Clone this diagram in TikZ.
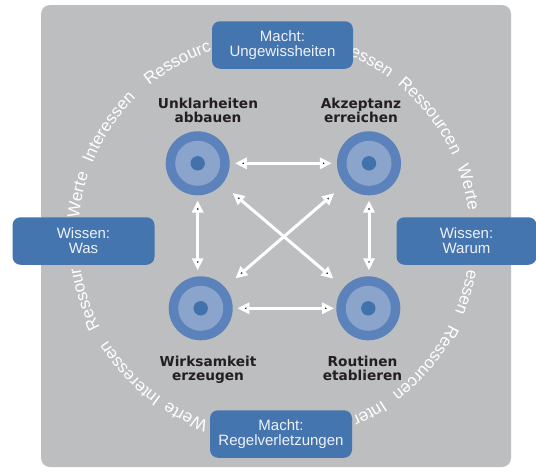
\documentclass[tikz,border=0pt]{standalone}
\usepackage{fontspec}
\setmainfont{Liberation Sans}
\newfontfamily\labfont{DejaVu Sans}
\usetikzlibrary{arrows.meta,decorations.text}
\definecolor{bggray}{HTML}{BDBEC0}
\definecolor{boxblue}{HTML}{4575AF}
\definecolor{ringout}{HTML}{5B82BA}
\definecolor{ringmid}{HTML}{8AA4CC}
\definecolor{ringdot}{HTML}{4272AC}
\definecolor{labtext}{HTML}{231F20}
\definecolor{boxtext}{HTML}{EEF2F8}
\newcommand\ringfont{\fontsize{17}{17}\selectfont}
\newcommand\ringword[2]{\path[decorate,decoration={text along path,text={|\ringfont|#2},text color=white,text align=left}] (C) ++(#1:196pt) arc[start angle=#1,end angle=#1-40,radius=196pt];}
\begin{document}
\begin{tikzpicture}[x=1pt,y=1pt,
  infobox/.style={fill=boxblue, rounded corners=8pt, text=boxtext, align=center, inner sep=0pt, font=\fontsize{15}{15}\selectfont, minimum height=47.5pt},
  steplabel/.style={text=labtext, align=center, inner sep=0pt, font=\labfont\bfseries\fontsize{13.7}{14}\selectfont},
  target/.style={circle, fill=ringout, minimum size=64pt, inner sep=0pt},
  dblarrow/.style={draw=white, line width=3pt, {Triangle[length=12pt,width=11pt]}-{Triangle[length=12pt,width=11pt]}}
]
\useasboundingbox (0,0) rectangle (536,-472);
\fill[bggray, rounded corners=9pt] (41,-5) rectangle (511,-467);
\coordinate (C) at (274,-237);
% ring of words (only the parts that the boxes leave visible)
\ringword{207.5}{Ressour}
\ringword{174.5}{Werte}
\ringword{158}{Interessen}
\ringword{129.5}{Ressourc}
\ringword{67.5}{essen}
\ringword{51}{Ressourcen}
\ringword{21}{Werte}
\ringword{-9.4}{essen}
\ringword{-26.5}{Ressourcen}
\ringword{-56.5}{Inter}
\ringword{-109.5}{Werte}
\ringword{-125}{Interessen}
% boxes
\node[infobox, minimum width=141pt] (mu) at (282.5,-45) {Macht:\\Ungewissheiten};
\node[infobox, minimum width=142pt] (ww) at (83.5,-241) {Wissen:\\Was};
\node[infobox, minimum width=140pt] (wr) at (466.5,-241) {Wissen:\\Warum};
\node[infobox, minimum width=142pt] (mr) at (281,-434) {Macht:\\Regelverletzungen};
% targets
\node[target] (tl) at (197.7,-163.3) {};
\node[target] (tr) at (369,-163.3) {};
\node[target] (bl) at (200.7,-308.3) {};
\node[target] (br) at (368.3,-308.3) {};
\foreach \n in {tl,tr,bl,br}{
  \fill[ringmid] (\n.center) circle[radius=22.5pt];
  \fill[ringdot] (\n.center) circle[radius=7.2pt];
}
% labels
\node[steplabel] (ltl) at (208,-110.1) {Unklarheiten\\abbauen};
\node[steplabel] (ltr) at (361,-110.1) {Akzeptanz\\erreichen};
\node[steplabel] (lbl) at (208,-369.3) {Wirksamkeit\\erzeugen};
\node[steplabel] (lbr) at (362.5,-367.9) {Routinen\\etablieren};
% arrows
\draw[dblarrow, shorten <=5pt, shorten >=5pt] (tl) -- (tr);
\draw[dblarrow, shorten <=4.5pt, shorten >=2pt] (bl) -- (br);
\draw[dblarrow, shorten <=5pt, shorten >=38pt] (tl) -- (tl |- bl);
\draw[dblarrow, shorten <=5pt, shorten >=38pt] (tr) -- (tr |- br);
\draw[dblarrow, shorten <=13.5pt, shorten >=13.5pt] (tl) -- (br);
\draw[dblarrow, shorten <=13.5pt, shorten >=13.5pt] (tr) -- (bl);
\end{tikzpicture}
\end{document}
